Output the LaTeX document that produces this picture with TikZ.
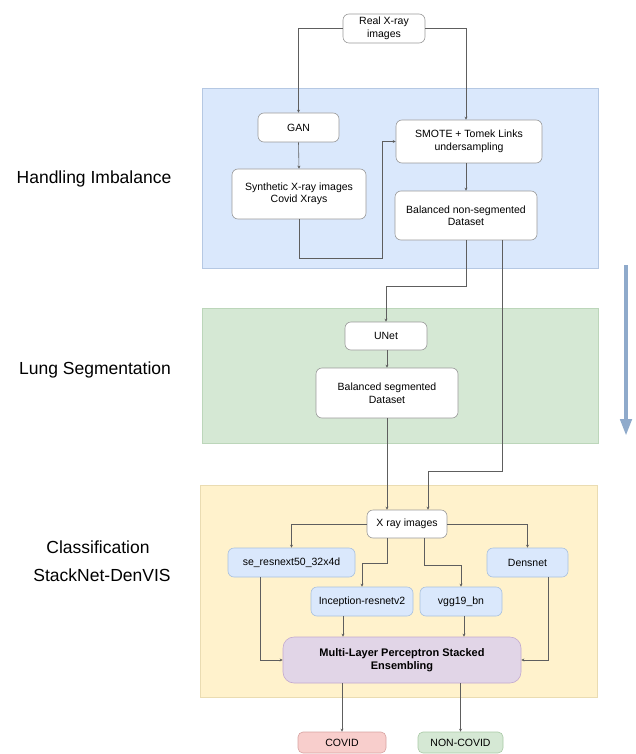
\documentclass[tikz,border=0pt]{standalone}
\usepackage{fontspec}
\setmainfont{Liberation Sans}
\usetikzlibrary{arrows.meta,calc}
\definecolor{regBlue}{HTML}{DAE8FC}
\definecolor{regBlueB}{HTML}{B5C8E3}
\definecolor{regGreen}{HTML}{D5E8D4}
\definecolor{regGreenB}{HTML}{BCD6BA}
\definecolor{regYellow}{HTML}{FFF2CC}
\definecolor{regYellowB}{HTML}{EADCB2}
\definecolor{nBlueB}{HTML}{A9C1DE}
\definecolor{nPurple}{HTML}{E1D5E7}
\definecolor{nPurpleB}{HTML}{C2A9CF}
\definecolor{nPink}{HTML}{F8CECC}
\definecolor{nPinkB}{HTML}{D7A3A1}
\definecolor{nGreenB}{HTML}{A9C9A6}
\definecolor{boxGray}{HTML}{9A9A9A}
\definecolor{lineGray}{HTML}{5E5E5E}
\definecolor{bigArrow}{HTML}{8FAACB}
\tikzset{
  box/.style={draw=boxGray, fill=white, rounded corners=6pt, align=center, inner sep=2pt, line width=0.6pt, font=\fontsize{10.5}{12.5}\selectfont},
  bluebox/.style={box, fill=regBlue, draw=nBlueB},
  conn/.style={draw=lineGray, line width=0.6pt, -{Stealth[length=3pt,width=3pt]}},
  sidelabel/.style={font=\fontsize{17.5}{21}\selectfont, inner sep=0pt},
  region/.style={line width=0.7pt}
}
\begin{document}
\begin{tikzpicture}[x=1pt,y=-1pt]
\useasboundingbox (0,0) rectangle (635,754);
% regions
\filldraw[region, fill=regBlue, draw=regBlueB] (202,88) rectangle (598,268);
\filldraw[region, fill=regGreen, draw=regGreenB] (202,308) rectangle (598,443);
\filldraw[region, fill=regYellow, draw=regYellowB] (200,485) rectangle (597,697);
% side labels
\node[sidelabel] (lhi) at (94,179) {Handling Imbalance};
\node[sidelabel] (lls) at (95,370) {Lung Segmentation};
\node[sidelabel] (lcl) at (98,547) {Classification};
\node[sidelabel] (lsn) at (102,575) {StackNet-DenVIS};
% big arrow
\coordinate (ba1) at (626,265);
\coordinate (ba2) at (626,436);
\draw[bigArrow, line width=4.5pt, -{Triangle[length=17pt,width=11pt]}] (ba1) -- (ba2);
% nodes
\node[box, minimum width=82pt, minimum height=29pt] (real) at (384,28.5) {Real X-ray\\images};
\node[box, minimum width=81pt, minimum height=29pt] (gan) at (298.5,127.5) {GAN};
\node[box, minimum width=134pt, minimum height=50pt] (synth) at (299,194) {Synthetic X-ray images\\Covid Xrays};
\node[box, minimum width=146pt, minimum height=43pt] (smote) at (469,141.5) {SMOTE + Tomek Links\\undersampling};
\node[box, minimum width=142pt, minimum height=49pt] (bns) at (466,215.5) {Balanced non-segmented\\Dataset};
\node[box, minimum width=82pt, minimum height=28pt] (unet) at (386,336) {UNet};
\node[box, minimum width=142pt, minimum height=50pt] (bseg) at (387,393) {Balanced segmented\\Dataset};
\node[box, minimum width=80pt, minimum height=28pt] (xray) at (407,524) {X ray images};
\node[bluebox, minimum width=127pt, minimum height=29pt] (seres) at (291.5,562.5) {se\_resnext50\_32x4d};
\node[bluebox, minimum width=81pt, minimum height=29pt] (dens) at (527.5,562.5) {Densnet};
\node[bluebox, minimum width=102pt, minimum height=29pt] (incep) at (362,601.5) {Inception-resnetv2};
\node[bluebox, minimum width=82pt, minimum height=29pt] (vgg) at (461,601.5) {vgg19\_bn};
\node[box, fill=nPurple, draw=nPurpleB, rounded corners=11pt, minimum width=238pt, minimum height=46pt, font=\fontsize{11}{13.5}\selectfont\bfseries] (mlp) at (402,660) {Multi-Layer Perceptron Stacked\\Ensembling};
\node[box, fill=nPink, draw=nPinkB, rounded corners=5pt, minimum width=88pt, minimum height=21pt] (covid) at (342,742.5) {COVID};
\node[box, fill=regGreen, draw=nGreenB, rounded corners=5pt, minimum width=85pt, minimum height=21pt] (noncovid) at (460.5,742.5) {NON-COVID};
% connectors
\draw[conn] (real.west) -| (gan.north);
\draw[conn] (real.east) -| (smote.north -| bns.north);
\draw[conn] (gan.south) -- (synth.north);
\coordinate (c1) at (382,258);
\draw[conn] (synth.south) |- (c1) |- (smote.west);
\draw[conn] (smote.south -| bns.north) -- (bns.north);
\coordinate (c2) at (0,286);
\draw[conn] (bns.south) -- (bns.south |- c2) -| (unet.north);
\coordinate (b2) at ([xshift=36pt]bns.south);
\coordinate (x2) at ([xshift=21pt]xray.north);
\coordinate (c3) at (0,471);
\draw[conn] (b2) -- (b2 |- c3) -| (x2);
\draw[conn] (unet.south -| bseg.north) -- (bseg.north);
\draw[conn] (bseg.south) -- (bseg.south |- xray.north);
\draw[conn] (xray.west) -| (seres.north);
\draw[conn] (xray.east) -| (dens.north);
\coordinate (x3) at ([xshift=-20pt]xray.south);
\coordinate (c4) at (0,563);
\draw[conn] (x3) -- (x3 |- c4) -| (incep.north);
\coordinate (x4) at ([xshift=17pt]xray.south);
\coordinate (c5) at (0,565);
\draw[conn] (x4) -- (x4 |- c5) -| (vgg.north);
\coordinate (s1) at ([xshift=-31.5pt]seres.south);
\draw[conn] (s1) |- (mlp.west);
\coordinate (d1) at ([xshift=20.5pt]dens.south);
\draw[conn] (d1) |- (mlp.east);
\coordinate (i1) at ([xshift=-19pt]incep.south);
\draw[conn] (i1) -- (i1 |- mlp.north);
\coordinate (v1) at ([xshift=3pt]vgg.south);
\draw[conn] (v1) -- (v1 |- mlp.north);
\draw[conn] (covid.north |- mlp.south) -- (covid.north);
\draw[conn] (noncovid.north |- mlp.south) -- (noncovid.north);
\end{tikzpicture}
\end{document}
